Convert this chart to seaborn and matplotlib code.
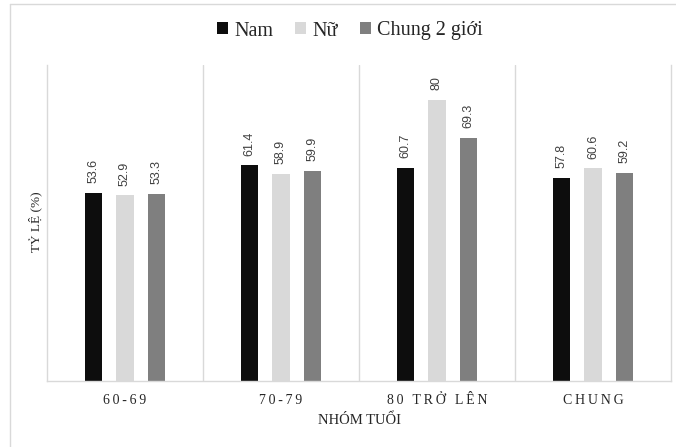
import matplotlib
matplotlib.use("Agg")
import matplotlib.pyplot as plt
from matplotlib.patches import Patch
from matplotlib.lines import Line2D
import pandas as pd
import seaborn as sns

# Age groups and the share (%) for each sex
groups = ["60-69", "70-79", "80 TRỞ LÊN", "CHUNG"]
series = ["Nam", "Nữ", "Chung 2 giới"]
nam = [53.6, 61.4, 60.7, 57.8]
nu = [52.9, 58.9, 80, 60.6]
chung = [53.3, 59.9, 69.3, 59.2]
colors = ["#0d0d0d", "#d9d9d9", "#7f7f7f"]

df = pd.DataFrame({
    "group": groups * 3,
    "series": [series[0]] * 4 + [series[1]] * 4 + [series[2]] * 4,
    "value": nam + nu + chung,
})

sns.set_theme(style="white")
plt.rcParams["font.family"] = ["Liberation Serif", "DejaVu Serif"]

fig = plt.figure(figsize=(6.76, 4.47), dpi=100)
ax = fig.add_axes([47 / 676, 1 - 381 / 447, 624 / 676, 316 / 447])

sns.barplot(data=df, x="group", y="value", hue="series", order=groups,
            hue_order=series, palette=colors, saturation=1, width=0.606,
            gap=0.46, legend=False, ax=ax, linewidth=0)

ax.set_ylim(0, 90)
ax.set_xlim(-0.5, 3.5)
ax.set_yticks([])
ax.set_ylabel("")
ax.set_xlabel("")

grid_c = "#d9d9d9"
for x in [0.5, 1.5, 2.5]:
    ax.axvline(x, color=grid_c, lw=1, zorder=0)
for side in ["left", "right", "bottom"]:
    ax.spines[side].set_color(grid_c)
    ax.spines[side].set_linewidth(1)
ax.spines["top"].set_visible(False)

# letter-spaced category labels
ax.tick_params(axis="x", length=0, pad=9)
ax.set_xticks(range(len(groups)))
ax.set_xticklabels(["\u2009".join(g) for g in groups], fontsize=10,
                   color="#262626")

for cont in ax.containers:
    ax.bar_label(cont, fmt="%g", rotation=90, padding=7, fontsize=9,
                 family="Liberation Sans", color="#404040")

fig.text(35 / 676, 1 - 222 / 447, "TỶ LỆ (%)", rotation=90, ha="center",
         va="center", fontsize=9.5, color="#262626")
fig.text(359 / 676, 1 - 420 / 447, "NHÓM TUỔI", ha="center", va="center",
         fontsize=10.5, color="#262626")

handles = [Patch(facecolor=c, edgecolor="none") for c in colors]
fig.legend(handles, series, loc="center", bbox_to_anchor=(350 / 676, 1 - 31 / 447),
           ncol=3, frameon=False, fontsize=14.5, handlelength=0.55,
           handleheight=0.55, handletextpad=0.3, columnspacing=1.1,
           labelcolor="#262626")

# light frame around the chart area
fig.add_artist(Line2D([10 / 676, 10 / 676], [0, 1 - 4 / 447], color=grid_c, lw=1,
                      transform=fig.transFigure))
fig.add_artist(Line2D([10 / 676, 1], [1 - 4 / 447, 1 - 4 / 447], color=grid_c, lw=1,
                      transform=fig.transFigure))

fig.savefig("out.png", dpi=100)
